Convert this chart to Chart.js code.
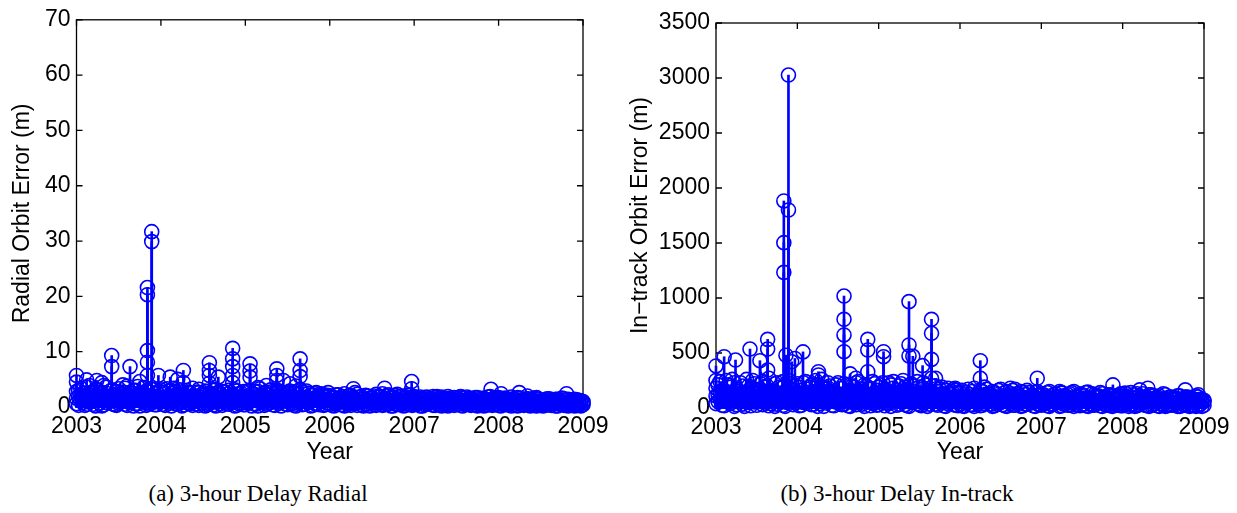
<!DOCTYPE html>
<html>
<head>
<meta charset="utf-8">
<script src="https://cdn.jsdelivr.net/npm/chart.js@4"></script>
<style>
  body { margin: 0; background: #fff; width: 1237px; height: 513px; position: relative; overflow: hidden; }
  canvas { position: absolute; top: 0; }
  #radialChart { left: 0; }
  #intrackChart { left: 620px; }
  .caption { position: absolute; top: 482px; font-family: "Liberation Serif", serif; font-size: 23px; line-height: 1; color: #000; transform: translateX(-50%); white-space: nowrap; }
</style>
</head>
<body>
<canvas id="radialChart" width="620" height="470"></canvas>
<canvas id="intrackChart" width="617" height="470"></canvas>
<div class="caption" style="left:258px">(a) 3-hour Delay Radial</div>
<div class="caption" style="left:897px">(b) 3-hour Delay In-track</div>
<script>
// background samples (the dense band near zero), two interleaved time grids
const sampleYears = [
  2003.00, 2003.05, 2003.10, 2003.15, 2003.20, 2003.25, 2003.30, 2003.35, 2003.40, 2003.45,
  2003.50, 2003.55, 2003.60, 2003.65, 2003.70, 2003.75, 2003.80, 2003.85, 2003.90, 2003.95,
  2004.00, 2004.05, 2004.10, 2004.15, 2004.20, 2004.25, 2004.30, 2004.35, 2004.40, 2004.45,
  2004.50, 2004.55, 2004.60, 2004.65, 2004.70, 2004.75, 2004.80, 2004.85, 2004.90, 2004.95,
  2005.00, 2005.05, 2005.10, 2005.15, 2005.20, 2005.25, 2005.30, 2005.35, 2005.40, 2005.45,
  2005.50, 2005.55, 2005.60, 2005.65, 2005.70, 2005.75, 2005.80, 2005.85, 2005.90, 2005.95,
  2006.00, 2006.05, 2006.10, 2006.15, 2006.20, 2006.25, 2006.30, 2006.35, 2006.40, 2006.45,
  2006.50, 2006.55, 2006.60, 2006.65, 2006.70, 2006.75, 2006.80, 2006.85, 2006.90, 2006.95,
  2007.00, 2007.05, 2007.10, 2007.15, 2007.20, 2007.25, 2007.30, 2007.35, 2007.40, 2007.45,
  2007.50, 2007.55, 2007.60, 2007.65, 2007.70, 2007.75, 2007.80, 2007.85, 2007.90, 2007.95,
  2008.00, 2008.05, 2008.10, 2008.15, 2008.20, 2008.25, 2008.30, 2008.35, 2008.40, 2008.45,
  2008.50, 2008.55, 2008.60, 2008.65, 2008.70, 2008.75, 2008.80, 2008.85, 2008.90, 2008.95,
  2009.00
];
const sampleYears2 = [
  2003.025, 2003.075, 2003.125, 2003.175, 2003.225, 2003.275, 2003.325, 2003.375, 2003.425, 2003.475,
  2003.525, 2003.575, 2003.625, 2003.675, 2003.725, 2003.775, 2003.825, 2003.875, 2003.925, 2003.975,
  2004.025, 2004.075, 2004.125, 2004.175, 2004.225, 2004.275, 2004.325, 2004.375, 2004.425, 2004.475,
  2004.525, 2004.575, 2004.625, 2004.675, 2004.725, 2004.775, 2004.825, 2004.875, 2004.925, 2004.975,
  2005.025, 2005.075, 2005.125, 2005.175, 2005.225, 2005.275, 2005.325, 2005.375, 2005.425, 2005.475,
  2005.525, 2005.575, 2005.625, 2005.675, 2005.725, 2005.775, 2005.825, 2005.875, 2005.925, 2005.975,
  2006.025, 2006.075, 2006.125, 2006.175, 2006.225, 2006.275, 2006.325, 2006.375, 2006.425, 2006.475,
  2006.525, 2006.575, 2006.625, 2006.675, 2006.725, 2006.775, 2006.825, 2006.875, 2006.925, 2006.975,
  2007.025, 2007.075, 2007.125, 2007.175, 2007.225, 2007.275, 2007.325, 2007.375, 2007.425, 2007.475,
  2007.525, 2007.575, 2007.625, 2007.675, 2007.725, 2007.775, 2007.825, 2007.875, 2007.925, 2007.975,
  2008.025, 2008.075, 2008.125, 2008.175, 2008.225, 2008.275, 2008.325, 2008.375, 2008.425, 2008.475,
  2008.525, 2008.575, 2008.625, 2008.675, 2008.725, 2008.775, 2008.825, 2008.875, 2008.925, 2008.975
];

const radialHi = [
  2.8, 3.4, 2.1, 3.9, 2.6, 3.1, 2.4, 3.6, 2.9, 2.2, 3.3, 2.7, 3.8, 2.5, 3.0, 2.3, 3.5, 2.8, 3.2, 2.6,
  3.1, 2.4, 2.9, 3.4, 2.2, 2.7, 3.0, 2.5, 1.9, 2.6, 2.3, 2.8, 2.1, 3.2, 2.4, 2.7, 3.0, 2.2, 2.9, 2.5,
  2.6, 3.0, 2.3, 2.8, 2.1, 2.7, 3.1, 2.4, 2.9, 2.2, 2.6, 2.0, 2.8, 3.2, 2.3, 2.5, 2.1, 1.9, 2.4, 1.8,
  2.0, 1.7, 2.2, 1.9, 1.6, 2.1, 2.6, 1.8, 1.5, 2.0, 1.7, 2.3, 1.9, 1.6, 2.2, 1.8, 1.5, 2.0, 1.7, 2.1,
  1.9, 1.6, 1.4, 1.8, 1.5, 1.7, 1.3, 1.6, 1.9, 1.4, 1.5, 1.8, 1.2, 1.6, 1.4, 1.7, 1.5, 1.3, 1.9, 1.6,
  1.7, 1.4, 1.5, 1.8, 1.3, 1.6, 1.2, 1.5, 1.4, 1.7, 1.1, 1.3, 1.5, 1.2, 1.4, 1.6, 1.3, 1.1, 1.4, 1.2,
  1.0
];
const radialMid = [
  1.6, 1.9, 1.3, 2.1, 1.5, 1.8, 1.2, 2.0, 1.7, 1.4, 1.9, 1.6, 2.2, 1.3, 1.8, 1.5, 2.0, 1.4, 1.7, 1.9,
  1.5, 1.8, 1.3, 2.0, 1.6, 1.4, 1.9, 1.2, 1.7, 1.5, 2.1, 1.3, 1.6, 1.8, 1.4, 1.9, 1.5, 1.7, 1.3, 1.6,
  1.8, 1.4, 1.6, 1.9, 1.3, 1.7, 1.5, 2.0, 1.4, 1.6, 1.8, 1.2, 1.5, 1.7, 1.3, 1.6, 1.4, 1.2, 1.5, 1.3,
  1.2, 1.0, 1.4, 1.1, 1.3, 0.9, 1.2, 1.4, 1.0, 1.3, 1.1, 0.9, 1.3, 1.0, 1.2, 1.1, 0.9, 1.2, 1.0, 1.3,
  1.1, 0.9, 1.2, 1.0, 0.8, 1.1, 0.9, 1.2, 1.0, 0.8, 1.1, 0.9, 1.0, 1.2, 0.8, 1.0, 0.9, 1.1, 0.8, 1.0,
  0.9, 1.1, 0.8, 1.0, 0.9, 0.7, 1.0, 0.9, 0.8, 1.0, 0.7, 0.9, 0.8, 1.0, 0.7, 0.9, 0.8, 0.7, 0.9, 0.8,
  0.7
];
const radialLo = [
  0.6, 1.1, 0.3, 0.9, 0.5, 1.2, 0.2, 0.8, 1.0, 0.4, 0.7, 1.1, 0.3, 0.9, 0.6, 0.2, 1.0, 0.5, 0.8, 0.4,
  0.9, 0.3, 0.7, 1.1, 0.5, 0.2, 0.8, 0.6, 1.0, 0.3, 0.7, 0.4, 0.9, 0.2, 0.6, 1.0, 0.5, 0.8, 0.3, 0.7,
  0.4, 0.9, 0.6, 0.2, 1.0, 0.5, 0.8, 0.3, 0.7, 1.1, 0.4, 0.6, 0.2, 0.9, 0.5, 0.8, 0.3, 0.6, 1.0, 0.4,
  0.5, 0.2, 0.8, 0.4, 0.7, 0.3, 0.6, 0.9, 0.2, 0.5, 0.7, 0.3, 0.8, 0.4, 0.6, 0.2, 0.5, 0.7, 0.3, 0.6,
  0.4, 0.7, 0.2, 0.5, 0.8, 0.3, 0.6, 0.4, 0.2, 0.7, 0.5, 0.3, 0.6, 0.4, 0.8, 0.2, 0.5, 0.3, 0.6, 0.4,
  0.3, 0.6, 0.4, 0.2, 0.5, 0.7, 0.3, 0.4, 0.6, 0.2, 0.5, 0.3, 0.4, 0.6, 0.2, 0.5, 0.3, 0.4, 0.2, 0.5,
  0.4
];
const radialHi2 = [
  3.0, 2.5, 3.6, 2.2, 3.2, 2.7, 3.9, 2.4, 3.1, 2.8, 2.3, 3.4, 2.6, 3.0, 3.7, 2.5, 2.9, 3.3, 2.4, 2.9,
  2.6, 3.3, 2.5, 2.8, 3.1, 2.3, 2.6, 3.4, 2.7, 2.2, 2.9, 2.5, 3.0, 2.6, 2.8, 2.3, 2.6, 3.1, 2.4, 2.8,
  2.9, 2.4, 2.7, 3.3, 2.5, 2.2, 2.8, 3.0, 2.6, 2.4, 2.9, 2.5, 2.3, 2.7, 2.9, 2.2, 2.4, 2.0, 2.2, 2.1,
  1.8, 2.2, 1.6, 2.4, 2.0, 1.7, 2.3, 1.9, 2.1, 1.6, 2.0, 1.8, 2.4, 2.0, 1.7, 2.1, 1.9, 1.6, 2.2, 1.8,
  1.5, 1.8, 1.7, 1.4, 1.9, 1.5, 1.8, 1.4, 1.6, 1.7, 1.3, 1.6, 1.8, 1.4, 1.7, 1.3, 1.6, 1.8, 1.4, 1.7,
  1.4, 1.6, 1.3, 1.5, 1.7, 1.2, 1.5, 1.3, 1.6, 1.4, 1.2, 1.5, 1.3, 1.4, 1.2, 1.5, 1.4, 1.2, 1.3, 1.1
];
const radialMid2 = [
  1.8, 1.4, 2.0, 1.6, 1.3, 1.9, 1.5, 1.7, 2.1, 1.4, 1.6, 1.9, 1.3, 1.8, 1.5, 2.0, 1.6, 1.3, 1.8, 1.5,
  1.7, 1.3, 1.9, 1.5, 1.8, 1.2, 1.6, 1.9, 1.4, 1.7, 1.3, 1.8, 1.5, 1.2, 1.7, 1.4, 1.9, 1.3, 1.6, 1.8,
  1.4, 1.7, 1.2, 1.5, 1.9, 1.4, 1.6, 1.3, 1.8, 1.5, 1.2, 1.6, 1.4, 1.8, 1.5, 1.2, 1.4, 1.6, 1.1, 1.4,
  1.1, 1.3, 0.9, 1.2, 1.0, 1.4, 1.1, 0.9, 1.2, 1.0, 1.3, 1.1, 0.9, 1.2, 1.0, 1.3, 1.1, 0.9, 1.0, 1.2,
  1.0, 1.2, 0.8, 1.1, 0.9, 1.0, 1.2, 0.8, 1.1, 1.0, 0.9, 1.1, 0.8, 0.9, 1.1, 0.8, 1.0, 0.9, 1.1, 0.9,
  1.0, 0.8, 0.9, 1.1, 0.8, 0.9, 0.7, 1.0, 0.9, 0.8, 0.9, 0.7, 1.0, 0.8, 0.9, 0.7, 0.8, 0.9, 0.7, 0.8
];
const radialLo2 = [
  0.3, 0.8, 0.5, 1.0, 0.2, 0.7, 0.4, 1.1, 0.6, 0.3, 0.9, 0.5, 0.8, 0.2, 0.6, 1.0, 0.3, 0.7, 0.4, 0.9,
  0.5, 1.0, 0.2, 0.6, 0.9, 0.4, 0.7, 0.3, 0.5, 0.8, 0.2, 0.6, 0.4, 1.0, 0.3, 0.7, 0.9, 0.2, 0.6, 0.4,
  0.8, 0.2, 0.5, 0.9, 0.3, 0.7, 0.4, 1.0, 0.2, 0.6, 0.8, 0.3, 0.7, 0.4, 1.0, 0.2, 0.6, 0.4, 0.3, 0.7,
  0.3, 0.6, 0.4, 0.2, 0.5, 0.8, 0.3, 0.4, 0.6, 0.2, 0.4, 0.7, 0.3, 0.5, 0.2, 0.6, 0.4, 0.2, 0.5, 0.3,
  0.6, 0.2, 0.4, 0.7, 0.3, 0.5, 0.2, 0.6, 0.4, 0.3, 0.6, 0.2, 0.5, 0.3, 0.4, 0.6, 0.2, 0.4, 0.3, 0.5,
  0.2, 0.4, 0.5, 0.3, 0.2, 0.4, 0.6, 0.2, 0.3, 0.5, 0.2, 0.4, 0.3, 0.2, 0.5, 0.3, 0.2, 0.4, 0.3, 0.2
];

// the taller stems
const radialSpikeYears = [
  2003.00, 2003.00, 2003.12, 2003.24, 2003.30, 2003.417, 2003.417, 2003.55, 2003.634, 2003.75,
  2003.84, 2003.84, 2003.84, 2003.84, 2003.84, 2003.891, 2003.891, 2003.97, 2004.11, 2004.20,
  2004.266, 2004.266, 2004.45, 2004.574, 2004.574, 2004.574, 2004.574, 2004.68, 2004.85, 2004.85,
  2004.85, 2004.85, 2004.85, 2005.056, 2005.056, 2005.056, 2005.15, 2005.25, 2005.373, 2005.373,
  2005.373, 2005.45, 2005.53, 2005.60, 2005.649, 2005.649, 2005.649, 2005.84, 2005.98, 2006.28,
  2006.65, 2006.80, 2006.97, 2006.97, 2007.27, 2007.55, 2007.91, 2008.03, 2008.245, 2008.34,
  2008.805
];
const radialSpikeErr = [
  5.7, 4.5, 4.9, 4.8, 4.4, 9.3, 7.3, 4.0, 7.3, 4.6,
  21.6, 20.3, 10.2, 8.1, 5.7, 31.7, 29.9, 5.7, 5.4, 5.0,
  6.6, 4.4, 3.2, 8.0, 6.6, 5.7, 4.3, 5.4, 10.6, 8.7,
  7.3, 5.7, 4.4, 7.8, 6.5, 5.4, 3.5, 3.9, 6.9, 5.7,
  4.8, 4.8, 4.2, 3.8, 8.7, 6.6, 5.5, 2.6, 2.6, 3.3,
  3.4, 2.3, 4.6, 3.3, 1.9, 1.9, 3.2, 2.4, 2.6, 2.0,
  2.4
];

const intrackHi = [
  180, 240, 150, 210, 260, 170, 230, 140, 200, 250, 160, 220, 190, 270, 150, 230, 180, 210, 250, 170,
  220, 160, 240, 190, 150, 210, 260, 170, 200, 140, 230, 180, 210, 160, 190, 240, 150, 200, 170, 220,
  190, 230, 160, 210, 140, 200, 250, 170, 220, 150, 190, 230, 160, 140, 200, 170, 130, 180, 150, 160,
  140, 120, 170, 150, 110, 160, 190, 130, 150, 120, 170, 140, 110, 160, 130, 150, 120, 140, 110, 150,
  130, 110, 150, 120, 100, 140, 110, 130, 150, 100, 120, 140, 90, 120, 110, 130, 100, 120, 90, 110,
  120, 100, 140, 90, 110, 130, 100, 120, 90, 110, 130, 80, 100, 90, 110, 80, 100, 90, 110, 80,
  70
];
const intrackMid = [
  110, 140, 90, 130, 100, 150, 85, 120, 140, 95, 125, 105, 145, 90, 130, 110, 135, 95, 120, 105,
  130, 95, 120, 145, 100, 85, 125, 110, 140, 90, 120, 100, 135, 85, 115, 140, 95, 125, 105, 130,
  100, 125, 90, 115, 135, 95, 120, 85, 110, 130, 95, 115, 85, 125, 100, 110, 85, 105, 120, 90,
  95, 75, 105, 85, 100, 80, 110, 90, 75, 100, 85, 70, 95, 80, 105, 75, 90, 100, 70, 85,
  80, 95, 70, 85, 100, 75, 90, 80, 70, 95, 80, 65, 85, 75, 95, 70, 80, 65, 90, 75,
  75, 85, 70, 65, 80, 90, 70, 75, 85, 65, 80, 70, 75, 85, 65, 75, 70, 80, 65, 70,
  60
];
const intrackLo = [
  40, 80, 20, 60, 90, 30, 70, 15, 50, 85, 25, 65, 45, 20, 75, 35, 55, 15, 60, 30,
  70, 25, 55, 85, 35, 15, 60, 45, 80, 20, 50, 30, 70, 15, 45, 75, 35, 60, 20, 50,
  30, 65, 45, 15, 70, 35, 55, 20, 50, 80, 30, 45, 15, 60, 35, 55, 20, 40, 65, 25,
  35, 15, 55, 30, 50, 20, 40, 60, 15, 35, 50, 20, 55, 25, 40, 15, 35, 50, 20, 40,
  25, 45, 15, 35, 50, 20, 40, 25, 15, 45, 30, 20, 40, 25, 50, 15, 30, 20, 40, 25,
  20, 40, 25, 15, 30, 45, 20, 25, 40, 15, 30, 20, 25, 40, 15, 30, 20, 25, 15, 30,
  25
];
const intrackHi2 = [
  210, 160, 250, 190, 230, 150, 200, 260, 180, 220, 170, 240, 200, 160, 220, 190, 240, 160, 220, 200,
  190, 230, 170, 210, 250, 160, 190, 230, 150, 210, 180, 220, 160, 200, 230, 170, 210, 180, 240, 160,
  210, 170, 230, 180, 160, 220, 190, 150, 200, 240, 170, 210, 180, 200, 150, 190, 160, 140, 170, 130,
  160, 140, 120, 180, 130, 150, 170, 120, 140, 160, 110, 150, 130, 170, 120, 140, 160, 110, 140, 120,
  120, 140, 100, 130, 150, 110, 120, 140, 100, 130, 110, 90, 130, 110, 140, 100, 120, 110, 100, 130,
  110, 90, 120, 130, 100, 90, 120, 110, 100, 80, 120, 100, 90, 110, 80, 100, 90, 80, 100, 70
];
const intrackMid2 = [
  120, 95, 135, 105, 125, 90, 140, 100, 115, 135, 95, 125, 110, 140, 90, 120, 105, 130, 100, 115,
  105, 125, 95, 115, 135, 100, 120, 90, 130, 105, 125, 95, 115, 140, 90, 110, 130, 100, 120, 95,
  120, 95, 110, 130, 90, 115, 100, 125, 95, 120, 105, 85, 115, 100, 125, 90, 105, 95, 85, 100,
  85, 100, 80, 95, 75, 105, 85, 95, 80, 100, 75, 90, 85, 70, 100, 80, 90, 75, 95, 80,
  90, 70, 85, 95, 75, 85, 70, 90, 80, 75, 90, 70, 80, 95, 70, 85, 75, 80, 70, 85,
  70, 80, 90, 65, 75, 85, 70, 80, 65, 75, 85, 65, 70, 80, 65, 75, 70, 65, 75, 60
];
const intrackLo2 = [
  60, 25, 75, 40, 15, 65, 35, 80, 20, 55, 90, 30, 60, 40, 15, 70, 25, 50, 85, 45,
  20, 50, 75, 30, 60, 40, 15, 70, 25, 55, 85, 35, 20, 60, 30, 50, 15, 70, 40, 25,
  55, 20, 40, 75, 25, 60, 30, 15, 65, 40, 20, 55, 35, 70, 25, 45, 15, 50, 30, 20,
  20, 45, 30, 15, 40, 25, 55, 35, 20, 45, 30, 15, 40, 25, 50, 20, 35, 45, 15, 30,
  40, 20, 30, 50, 15, 35, 25, 45, 30, 20, 35, 15, 25, 40, 20, 35, 25, 15, 30, 20,
  30, 15, 35, 20, 40, 25, 15, 30, 20, 35, 15, 25, 30, 15, 20, 35, 15, 25, 20, 15
];

const intrackSpikeYears = [
  2003.00, 2003.00, 2003.10, 2003.24, 2003.418, 2003.54, 2003.635, 2003.635, 2003.635, 2003.834,
  2003.834, 2003.834, 2003.86, 2003.891, 2003.891, 2003.93, 2003.97, 2004.07, 2004.26, 2004.26,
  2004.38, 2004.574, 2004.574, 2004.574, 2004.574, 2004.65, 2004.72, 2004.866, 2004.866, 2004.866,
  2005.06, 2005.06, 2005.18, 2005.373, 2005.373, 2005.373, 2005.42, 2005.54, 2005.65, 2005.65,
  2005.65, 2005.65, 2005.70, 2005.94, 2006.25, 2006.25, 2006.62, 2006.95, 2007.25, 2007.57,
  2007.88, 2008.03, 2008.21, 2008.31, 2008.77, 2008.93
];
const intrackSpikeErr = [
  382, 250, 466, 436, 536, 430, 624, 536, 345, 1882,
  1503, 1233, 480, 3027, 1800, 420, 450, 510, 330, 300,
  180, 1018, 806, 664, 512, 310, 270, 624, 527, 330,
  512, 466, 240, 967, 573, 473, 470, 385, 806, 679,
  442, 270, 270, 180, 430, 270, 180, 270, 135, 145,
  210, 135, 165, 180, 165, 120
];

const yearRange = [2003, 2009];

function toPoints(years, values) {
  return years.map((x, i) => ({ x: x, y: values[i] }));
}

// MATLAB style box with inward ticks on all sides
const boxFrame = {
  id: 'boxFrame',
  beforeDatasetsDraw(chart) {
    const { ctx, chartArea: a, scales: { x, y } } = chart;
    const len = 6;
    ctx.save();
    ctx.strokeStyle = '#000';
    ctx.lineWidth = 1.3;
    ctx.strokeRect(a.left, a.top, a.right - a.left, a.bottom - a.top);
    ctx.beginPath();
    x.ticks.forEach(t => {
      const px = x.getPixelForValue(t.value);
      ctx.moveTo(px, a.bottom); ctx.lineTo(px, a.bottom - len);
      ctx.moveTo(px, a.top); ctx.lineTo(px, a.top + len);
    });
    y.ticks.forEach(t => {
      const py = y.getPixelForValue(t.value);
      ctx.moveTo(a.left, py); ctx.lineTo(a.left + len, py);
      ctx.moveTo(a.right, py); ctx.lineTo(a.right - len, py);
    });
    ctx.stroke();
    ctx.restore();
  }
};

const tickFont = { family: '"Liberation Sans", Arial, sans-serif', size: 23 };
const stemBlue = '#0000ff';

function makeStemChart(id, band, spikes, cfg) {
  return new Chart(document.getElementById(id), {
    type: 'scatter',
    data: {
      datasets: [
        { type: 'bar', data: band, backgroundColor: stemBlue, borderWidth: 0, barThickness: 2.5, grouped: false, clip: false, order: 3 },
        { type: 'bar', data: spikes, backgroundColor: stemBlue, borderWidth: 0, barThickness: 2, grouped: false, clip: false, order: 2 },
        { type: 'scatter', data: band.concat(spikes), pointStyle: 'circle', pointRadius: 7, borderWidth: 1.6,
          borderColor: stemBlue, backgroundColor: 'rgba(0,0,0,0)', clip: false, order: 1 }
      ]
    },
    options: {
      responsive: false,
      animation: false,
      layout: { padding: cfg.padding },
      plugins: { legend: { display: false }, tooltip: { enabled: false } },
      scales: {
        x: {
          type: 'linear', min: yearRange[0], max: yearRange[1], offset: false,
          grid: { display: false, drawTicks: false, offset: false }, border: { display: false },
          ticks: { stepSize: 1, color: '#000', font: tickFont, padding: 6, maxRotation: 0, callback: v => String(v) },
          title: { display: true, text: 'Year', color: '#000', font: tickFont, padding: { top: 0, bottom: 4 } },
          afterFit: s => { s.height = cfg.xHeight; }
        },
        y: {
          min: 0, max: cfg.yMax,
          grid: { display: false, drawTicks: false }, border: { display: false },
          ticks: { stepSize: cfg.yStep, color: '#000', font: tickFont, padding: 6, callback: v => String(v) },
          title: { display: true, text: cfg.yTitle, color: '#000', font: tickFont, padding: { top: cfg.titlePad, bottom: 0 } },
          afterFit: s => { s.width = cfg.yWidth; }
        }
      }
    },
    plugins: [boxFrame]
  });
}

makeStemChart('radialChart',
  [].concat(
    toPoints(sampleYears, radialHi), toPoints(sampleYears, radialMid), toPoints(sampleYears, radialLo),
    toPoints(sampleYears2, radialHi2), toPoints(sampleYears2, radialMid2), toPoints(sampleYears2, radialLo2)),
  toPoints(radialSpikeYears, radialSpikeErr),
  { padding: { left: 0, top: 15, right: 37, bottom: 0 }, xHeight: 63, yWidth: 76.5, yMax: 70, yStep: 10,
    yTitle: 'Radial Orbit Error (m)', titlePad: 9 });

makeStemChart('intrackChart',
  [].concat(
    toPoints(sampleYears, intrackHi), toPoints(sampleYears, intrackMid), toPoints(sampleYears, intrackLo),
    toPoints(sampleYears2, intrackHi2), toPoints(sampleYears2, intrackMid2), toPoints(sampleYears2, intrackLo2)),
  toPoints(intrackSpikeYears, intrackSpikeErr),
  { padding: { left: 0, top: 23, right: 33, bottom: 0 }, xHeight: 62, yWidth: 96, yMax: 3500, yStep: 500,
    yTitle: 'In\u2212track Orbit Error (m)', titlePad: 7 });
</script>
</body>
</html>
